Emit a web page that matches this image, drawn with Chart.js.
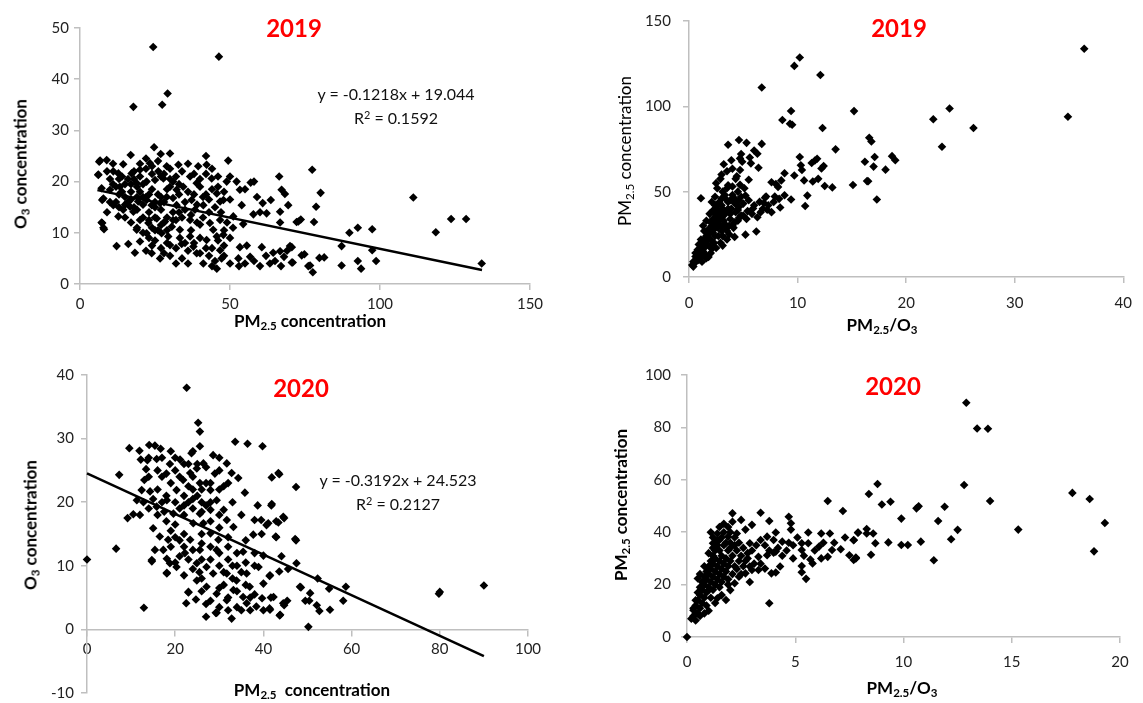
<!DOCTYPE html>
<html>
<head>
<meta charset="utf-8">
<script src="https://cdn.jsdelivr.net/npm/chart.js@4.4.1/dist/chart.umd.min.js"></script>
<style>
  body { margin: 0; background: #fff; }
  #wrap { position: relative; width: 1143px; height: 703px; overflow: hidden; font-family: Lato, "Open Sans", sans-serif; }
  canvas { position: absolute; }
  .t { position: absolute; white-space: nowrap; transform: translate(-50%, -50%); color: #000; }
  .yr { font-weight: bold; color: #ff0000; font-size: 24px; }
  .ax { font-weight: bold; font-size: 17px; }
  .axn { font-size: 17px; }
  .rot { transform: translate(-50%, -50%) rotate(-90deg); }
  .eq { font-size: 16px; color: #111; }
  sub { font-size: 68%; vertical-align: -0.3em; line-height: 0; }
  sup { font-size: 68%; vertical-align: 0.45em; line-height: 0; }
</style>
</head>
<body>
<div id="wrap">
  <canvas id="c1" style="left:0;top:0" width="560" height="340"></canvas>
  <canvas id="c2" style="left:580px;top:0" width="563" height="340"></canvas>
  <canvas id="c3" style="left:0;top:350px" width="560" height="359"></canvas>
  <canvas id="c4" style="left:580px;top:350px" width="563" height="353"></canvas>

  <div class="t yr" style="left:294px;top:27px">2019</div>
  <div class="t eq" style="left:396px;top:93px">y = -0.1218x + 19.044</div>
  <div class="t eq" style="left:396px;top:117px">R<sup>2</sup> = 0.1592</div>
  <div class="t ax" style="left:310px;top:320px">PM<sub>2.5</sub> concentration</div>
  <div class="t ax rot" style="left:20px;top:164px">O<sub>3</sub> concentration</div>

  <div class="t yr" style="left:899px;top:27px">2019</div>
  <div class="t axn rot" style="left:624px;top:151px">PM<sub>2.5</sub> concentration</div>
  <div class="t ax" style="left:882px;top:324px">PM<sub>2.5</sub>/O<sub>3</sub></div>

  <div class="t yr" style="left:301px;top:387px">2020</div>
  <div class="t eq" style="left:398px;top:479px">y = -0.3192x + 24.523</div>
  <div class="t eq" style="left:398px;top:503px">R<sup>2</sup> = 0.2127</div>
  <div class="t ax" style="left:312px;top:689px">PM<sub>2.5</sub>&nbsp; concentration</div>
  <div class="t ax rot" style="left:30px;top:525px">O<sub>3</sub> concentration</div>

  <div class="t yr" style="left:893px;top:385px">2020</div>
  <div class="t ax rot" style="left:620px;top:505px">PM<sub>2.5</sub> concentration</div>
  <div class="t ax" style="left:902px;top:687px">PM<sub>2.5</sub>/O<sub>3</sub></div>
</div>
<script>
// 2019: PM2.5 (x) vs O3 (y)
const pmO3_2019 = [
  [24.4,46.3],[46.3,44.4],[17.8,34.6],[29.2,37.2],[27.4,35],
  [24.7,26.7],[6.7,24.1],[8.9,24.2],[16.9,25.2],[26.9,25.4],[30,25.5],[42,25],[49.4,24.1],[6.1,21.4],[14.4,23.4],
  [11.1,22],[12.8,21.6],[17.2,21.6],[20,22.3],[23.3,23.6],[26.1,22],[28.9,23],[32.8,23.3],[36.7,21],[39.4,23],
  [42.2,23.3],[38.9,19.7],[43.9,20.6],[48.9,20],[52.2,20],[56.9,19.8],[66.4,21],[67.2,18.4],[68.3,17.6],[53.3,18.4],
  [7.2,18.7],[7.8,16.7],[10,18.4],[13.3,19],[18.9,19.7],[22.2,20],[25,20.3],[27.8,20.6],[30,19],[32.2,18.4],
  [34.4,19],[11.1,15.4],[12.8,13.2],[14.4,14.5],[16.7,15.1],[19.4,16.1],[22.2,16.4],[23.9,15.4],[26.7,15.8],[28.9,17],
  [32.2,15.4],[37.2,16.4],[38.3,14.5],[41.1,15.4],[45.6,17.7],[46.7,16.1],[47.8,16.4],[53.9,15.4],[60.9,15.8],[63.6,16.4],
  [69.4,15.4],[57.8,13.6],[62.2,13.8],[66.7,14.1],[7.2,12],[8,10.7],[51.1,13.2],[54.4,11.7],[72.8,12.2],[66.7,12],
  [17.8,14.1],[20,12.5],[22.8,11.9],[25.6,12.8],[28.3,12.2],[30.6,11.2],[33.3,10.6],[36.7,12.5],[40,11.6],[43.3,11.9],
  [46.7,12.5],[44.4,10.6],[18.9,10.6],[22.2,9.9],[27.2,9.9],[29.4,9.3],[33.3,9],[36.7,9.3],[40,9],[42.2,8.6],
  [45.6,9.3],[47.8,9.6],[12.2,7.4],[16.1,7.8],[20,8.3],[18.3,6.1],[23.9,6],[26.7,5],[30,7.6],[33.9,7.8],
  [37.8,7.3],[38.9,6],[41.1,4],[45.6,3],[46.7,6.6],[47.2,5],[53.3,7.2],[55.6,7.5],[52.8,5],[55,4],
  [56.7,5.3],[60.6,7.2],[64.4,6.1],[63.3,4],[66.7,6.4],[70,7.4],[68,5.3],[70.6,4.2],[73.9,5.6],[76.1,3.5],
  [77.4,22.3],[80.2,17.8],[78.7,15.1],[72.2,12.1],[73.6,12.6],[78,12.1],[70.6,7.2],[70.9,4.2],[74.8,5.8],[76.7,3.6],
  [77.6,2.3],[79.8,5.1],[81.4,5.2],[87.2,7.4],[87.2,3.6],[89.8,10],[92.6,11],[92.6,4.5],[93.7,3],[97.4,10.7],
  [97.4,6.6],[98.7,4.5],[111.1,16.9],[118.6,10.1],[123.7,12.7],[128.7,12.7],[133.9,4],
  [6.4,23.9],[6.1,21.3],[7.4,16.4],[7.4,11.9],[7.8,11],
  [20,18],[22,17],[24,18.5],[26,17.5],[28,16],[23,14],[25,13],[27,14.5],[29,13],[31,14],
  [21,19.5],[19,17],[17,18],[15,19.5],[13,17.5],[16,16],[18,15],[21,15.5],[24,11],[26,10.5],
  [28,12],[32,12.5],[34,13],[35,16],[33,17.5],[31,16.8],[30,20.5],[27,21],[24,21.5],[22,22.5],
  [20,21],[18,20.5],[14,21],[12,19],[10,20.5],[9,22],[11,23.5],[36,18],[38,17.5],[40,19],
  [42,17.5],[44,18.5],[46,19],[41,13],[39,12],[43,14],[37,10.5],[35,8],[32,7],[29,8],
  [27,7],[25,8.5],[34,5],[36,4],[44,7],[46,8.5],[48,10.5],[50,9],[45,4.5],[43,5.5],
  [12,16],[14,18],[16,20.5],[18,22],[20,23.5],[22,24.5],[24,23],[26,24],[28,21.5],[30,22.5],
  [32,21],[34,22],[36,23.5],[38,21.5],[40,20.5],[42,21.5],[44,22.5],[46,21],[48,18],[50,16.5],
  [13,15],[15,13],[17,12],[19,11],[21,10],[23,9],[25,10.5],[27,11.5],[29,10.5],[31,12.5],
  [33,14],[35,14.5],[37,13.5],[39,15.5],[41,17],[43,16.5],[45,15],[47,14],[49,12],[51,11],
  [15,17],[17,16.5],[19,14.5],[21,13],[23,12.5],[25,15],[27,17],[29,18.5],[31,20],[33,19.5],
  [23,17.5],[25,16],[21,17],[19,19],[17,19.5],[15,15.5],[13,20.5],[11,19.5],[10,16],[9,14],
  [30,5.5],[32,4],[28,6],[24,7.5],[22,6.5],[36,6.5],[38,8],[40,6],[42,7],[44,3.5],
  [48,5.5],[50,4],[48,7.5],[53,3.5],[58,4.5],[60,3.5],[62,5.5],[65,4.5],[67,3.5],[69,6.5],
  [50,21],[55,18.5],[58,20],[60,14],[59,17]
];
const trend2019 = [[5.8,18.34],[134,2.72]];

// 2019: PM2.5/O3 (x) vs PM2.5 (y)
const ratioPm_2019 = [
  [10.2,128.6],[9.7,123.7],[12.1,118.4],[6.7,111],[15.2,97.2],[9.4,97.3],[8.6,92],[9.3,89.8],[9.5,89.2],[12.3,87.3],
  [16.6,81.6],[16.8,79.4],[17.1,70.3],[16.2,67.5],[17,64.7],[15.1,53.9],[16.4,56.2],[17.3,45.4],[13.5,74.8],[10.2,70.3],
  [10.3,65.5],[10.4,62.7],[9.7,59.5],[11.3,66.8],[11.6,68.3],[11.8,69.3],[12.2,63.6],[12.4,65],[10.6,56.6],[11.4,56],
  [11.9,57.5],[12.5,53.3],[13.2,52.5],[10.9,47.7],[10.7,41.6],[8.8,60.8],[8.5,56.6],[8,54.5],[8.2,52.8],[7.6,55.5],
  [7.9,47.2],[8.3,45.8],[8.8,47.9],[9.4,45.4],[8.4,40.7],[7,46.5],[7.1,47.2],[6.9,43.4],[7.2,39.4],[6.6,38],
  [6.2,26.7],[5.2,24.8],[3.6,77.5],[4.6,80.3],[5.3,78.6],[6.7,78],[6,74.1],[6.3,72.2],[4.7,69.5],[3.9,68.4],
  [3.2,66.1],[5.7,66.6],[4.9,67.5],[4,63.4],[4.7,62.7],[2.9,57.5],[3.6,53.7],[4.3,57.5],[4.7,54],[5.2,47.7],
  [5.9,40.2],[5.4,38.6],[5,43],[4.5,39.2],[4.6,34.5],[4.1,28.8],[4.2,23.5],[3.1,18.4],[2.1,16.5],[1.8,11.7],
  [1.1,46.1],[0.4,6.1],
  [0.5,8],[0.7,10],[0.8,13],[1,12],[1,16],[1.2,18],[1.3,15],[1.5,20],[1.5,23],[1.7,19],
  [1.8,25],[2,22],[2,28],[2.2,26],[2.3,31],[2.4,24],[2.5,35],[2.6,29],[2.8,33],[2.9,38],
  [3,27],[3,42],[3.2,36],[3.3,31],[3.5,45],[3.6,40],[3.8,34],[4,48],[2.1,44],[2.4,47],
  [1.4,27],[1.6,33],[1.9,37],[2.7,43],[3.1,50],[1.1,22],[0.9,19],[0.6,14],[2.2,39],[2.6,52],
  [1.3,30],[3.4,29],[3.8,37],[4.2,32],[4.4,42],[4.8,36],[5.3,34],[4.1,44],[4.6,45],[3.7,25],
  [3.5,22],[2.9,20],[2.5,17],[2,14],[1.6,11],[1.2,9],[0.3,7],
  [0.4,9],[0.6,12],[0.8,16],[1,14],[1.1,18],[1.3,21],[1.4,17],[1.6,24],[1.7,22],[1.8,28],
  [1.9,26],[2.1,30],[2.2,34],[2.3,28],[2.4,37],[2.5,32],[2.6,40],[2.7,36],[2.8,44],[2.9,30],
  [3,46],[3.1,40],[3.2,33],[3.3,48],[3.4,38],[3.5,52],[3.6,44],[3.7,30],[3.9,40],[4,53],
  [4.2,46],[4.3,38],[4.5,50],[4.6,41],[4.8,47],[5,36],[5.1,52],[5.5,45],[5.8,37],[6,42],
  [6.3,35],[6.5,44],[6.8,40],[7.3,42],[7.6,38],[7.8,44],[1.5,13],[1.9,18],[2.3,20],[2.7,24],
  [3.1,24],[3.5,27],[4,30],[4.5,33],[0.9,10],[1.2,12.5],[2,32],[2.4,42],[3,35],[3.8,45],
  [2.5,55],[3,60],[3.5,62],[4.4,59],[4.8,72],[5.6,70],[6.4,64],[5.5,57],
  [36.4,133.7],[34.9,93.9],[24,98.7],[22.5,92.4],[26.2,87.3],[23.3,76.3],[18.1,62.9],[18.7,70.8],[19,68.4],[16.5,56.1]
];

// 2020: PM2.5 (x) vs O3 (y)
const pmO3_2020 = [
  [22.6,38],[25.2,32.5],[25.6,31.1],[0,11],[6.6,12.7],[7.3,24.3],[12.9,3.4],[9.6,28.5],[11.9,28.1],[14.1,29],
  [15.4,28.9],[16.7,28.4],[12.2,26.7],[13.7,26.6],[15.8,26.8],[13.4,25.2],[9.2,17.5],[10.5,18.1],[14.7,10.7],[15.4,12.5],
  [18.1,8.9],[18.8,10.4],[20.3,9.8],[22.5,4.1],[24.7,4.7],[23,5.8],[29.2,2.6],[32.8,1.7],[33.6,29.5],[36.4,29.2],
  [39.8,28.8],[24,28],
  [18.8,26],[21.1,26.7],[23.7,27.7],[25.6,28.8],[28.6,27.4],[26.4,26.1],[24.9,25.3],[31.7,26.1],[32.8,24.6],[34.3,23.8],
  [35.8,21.5],[41.9,23.9],[43.4,24.6],[47.4,22.4],[11.3,20.3],[12.8,20],[12.4,21.9],[14.3,21.7],[15.8,19.3],[15,15.9],
  [16.5,14.6],[18.4,14.1],[17.3,12.5],[14.7,10.9],[18.1,11.1],[18.1,8.8],[22.2,12],[23.4,14.1],[24.1,16.7],[25.6,18.2],
  [19.6,18.2],[18.1,20.3],[20.3,21.9],[21.8,23.5],[23.4,24.6],[25.6,23],[28,21.9],[29.4,20.3],[31,18.8],[31.7,17.2],
  [33.2,16.1],[28,18.8],[26.4,16.7],[28,15.1],[29.8,14.1],[29.4,12.5],[25.6,12.5],[24.9,10.4],[27.1,9.8],[28.6,8.8],
  [24.9,7.7],[27.1,6.7],[29.4,5.6],[31.7,4.6],[33.2,6.2],[35.4,5.1],[33.9,7.7],[36.2,8.8],[31.7,8.8],[36.9,6.7],
  [23,5.9],[29.4,2.6],[36.2,4.1],[38.4,3.6],[41.5,3.1],[43.8,2.3],[44.5,4.1],[40,7.2],[42.3,5.1],[38.9,9.8],
  [41.5,8.5],[40,11.6],[44.1,11.5],[47.5,10.4],[35.4,12.2],[38,17.2],[39.5,17.2],[38.7,19.5],[41.8,19.5],[40.7,16.4],
  [42.9,17],[44.5,17.7],[42.8,14.6],[37.7,14.9],[47.2,14.2],[48.3,6.7],
  [43.6,24.4],[41.9,19.7],[43.4,16.8],[44.7,17.5],[41.1,16.7],[39.6,15],[42.9,14.5],[47.4,14],[45.6,9.5],[43.6,9.1],
  [41.4,8.4],[41.7,5],[39.7,4.9],[41.4,3.3],[43.7,2.2],[44.7,3.8],[45.4,4.5],[48.5,6.6],[52.3,8],[54.9,6.4],
  [58.7,6.7],[50.6,5.7],[49.5,4.5],[50.4,4.5],[52.1,3.8],[52.7,2.9],[55.1,3.1],[58.1,4.5],[50.2,0.4],[80,5.9],
  [79.8,5.6],[90,6.9],
  [17,24],[19,23],[20,25],[22,21],[24,22],[26,20],[27,23],[29,24.5],[30,22],[21,19],
  [23,20],[25,21],[27,19.5],[20,16.5],[22,18],[24,19],[26,15],[28,17],[30,16],[32,14.5],
  [19,13],[21,14],[23,11],[26,13.5],[28,11],[30,10],[32,11],[34,10],[22,15],[18,17],
  [16,22],[14,24],[17,27],[19,28],[21,24],[23,26],[27,25.5],[30,27],[31,9],[33,8],
  [35,3],[34,3.5],[37,5],[30,6.5],[32,5],[26,8],[27,4],[36,10.5],[38,12],[20,10.5],
  [25.5,9],[17.5,18.5],[13,23.5],[15,20.5],[31,22.5],[33,20],[35,18],
  [14,27],[16,25],[18,24.5],[20,27],[22,26],[24,24],[26,22],[28,23],[30,25],[32,23],
  [18,21],[20,20],[22,19.5],[24,20.5],[26,18.5],[28,20],[30,18],[16,18],[14,19],[12,18],
  [20,14.5],[22,13],[24,12.5],[26,11],[28,13],[30,12],[32,13],[34,12],[36,14],[38,10],
  [22,8.5],[24,9.5],[26,6],[28,4.5],[30,3.5],[32,3],[34,6],[36,7],[38,5.5],[40,3],
  [27,2],[31,7],[33,10],[35,9],[37,3],[21,11.5],[19,15.5],[17,20],[23,22.5],[25,26]
];
const trend2020 = [[0,24.523],[90,-4.2]];

// 2020: PM2.5/O3 (x) vs PM2.5 (y)
const ratioPm_2020 = [
  [0,0],[6.5,51.9],[7.2,48.1],[3.4,47.4],[2.1,47.2],[2.5,44.7],[1.7,43.2],[3,42.8],[3.8,44.3],[4.7,45.9],
  [4.8,43.4],[4.8,41],[4.1,39.9],[3.7,38.3],[1.4,39.5],[2.3,39.5],[1.9,38.3],[2.9,35.8],[1.2,35.8],[6.2,39.5],
  [6.6,39.5],[5.6,39.9],[7.9,39.9],[7.7,37],[7.1,33.5],[7.5,31.2],[7.8,30],[6.7,33.2],[6.5,30.6],[6.2,30],
  [6.1,34.5],[5.8,28.1],[5.7,29.6],[5.3,35.8],[5.3,33.2],[5.6,35.8],[4.9,30],[5.3,27.1],[5.3,24.7],[5.5,22.2],
  [4.7,36],[4.4,36.4],[4,37],[4.1,32.6],[4,32.2],[4.3,26.9],[3.9,24.3],[4.1,24.6],[3.8,12.9],[3.7,31.2],
  [3.6,26.1],[3.3,30.6],[3,25.6],[3.3,25.6],[2.8,32],[2.9,26.9],[2.7,24.3],[2.4,23],[2.2,20.5],[2,17.9],
  [1.8,14.1],[1.4,14.8],[1,17.9],[0.5,22.3],[0.4,8.9],[0.2,7],[0.4,6.3],[0.3,10.2],
  [0.4,12],[0.5,14],[0.6,11],[0.6,16],[0.7,13],[0.7,18],[0.8,15],[0.8,20],[0.9,17],[0.9,22],
  [1,19],[1,24],[1.1,21],[1.1,26],[1.2,18],[1.2,23],[1.2,28],[1.3,20],[1.3,25],[1.3,30],
  [1.4,22],[1.4,27],[1.5,19],[1.5,24],[1.5,29],[1.5,33],[1.6,21],[1.6,26],[1.6,31],[1.7,23],
  [1.7,28],[1.7,35],[1.8,25],[1.8,30],[1.9,22],[1.9,27],[1.9,33],[2,29],[2,36],[2.1,24],
  [2.1,31],[2.2,27],[2.3,33],[2.4,29],[2.5,31],[2.6,27],[0.5,9],[0.3,8],[0.9,12],[1.1,15],
  [2.2,38],[1,32],[1.2,34],[0.8,27],[0.6,24],[1.4,37],[1.1,40],
  [0.3,11],[0.5,17],[0.7,21],[0.9,25],[1.1,29],[1.3,33],[1.5,37],[1.7,40],[1.9,42],[2.1,44],
  [0.4,14],[0.6,19],[0.8,23],[1,27],[1.2,31],[1.4,35],[1.6,38],[1.8,36],[2,34],[2.2,35],
  [2.4,36],[2.6,34],[2.8,30],[3,33],[3.2,35],[3.4,37],[3.6,35],[3.8,33],[4.2,34],[4.4,31],
  [4.6,33],[4.9,35],[5.1,38],[5.4,31],[5.9,33],[6.3,36],[6.8,36],[7.3,38],[2.3,26],[2.5,24],
  [2.7,29],[1.9,20],[1.6,16],[1.3,13],[1,10],[0.8,9],[2.9,21],[3.1,28],[3.4,28],[1.5,42],
  [1.2,38],[2,40],[2.7,41],[0.6,8],
  [12.9,89.4],[13.4,79.6],[13.9,79.5],[8.8,58.4],[8.4,54.6],[12.8,58],[14,51.9],[17.8,55],[18.6,52.7],[19.3,43.5],
  [18.8,32.7],[15.3,41],[9,50.6],[9.4,51.6],[10.6,49.1],[10.7,49.9],[11.9,49.7],[9.9,45.2],[11.6,44.3],[12.5,40.9],
  [12.2,37.3],[11.4,29.3],[10.8,36.4],[9.9,35.1],[10.2,35.1],[9.3,36.1],[8.7,35.8],[8.5,31.4],[8.6,39.5],[8.3,41.2],
  [8.3,39.5],[7.9,39.8],[7.7,36.9],[7.8,30.3],[7.7,29.4]
];

const axisGrey = '#bfbfbf';
const tickColor = '#222';

function drawPanel(id, pts, trend, xs, ys, lay) {
  const datasets = [{
    data: pts.map(p => ({ x: p[0], y: p[1] })),
    pointStyle: 'rectRot',
    pointRadius: 4.3,
    pointHoverRadius: 4.3,
    backgroundColor: '#000',
    borderWidth: 0,
    clip: false
  }];
  if (trend) {
    datasets.push({
      data: trend.map(p => ({ x: p[0], y: p[1] })),
      showLine: true,
      borderColor: '#000',
      borderWidth: 2.5,
      pointRadius: 0,
      clip: false
    });
  }
  new Chart(document.getElementById(id), {
    type: 'scatter',
    data: { datasets },
    options: {
      responsive: false,
      animation: false,
      layout: { padding: { top: lay.top, right: lay.right, bottom: lay.bottom || 0, left: 0 } },
      plugins: { legend: { display: false }, tooltip: { enabled: false } },
      scales: {
        x: {
          type: 'linear', min: xs[0], max: xs[1],
          position: lay.xAtZero ? { y: 0 } : 'bottom',
          ticks: { stepSize: xs[2], padding: lay.xPad, color: tickColor, maxRotation: 0, font: { family: 'Lato', size: 15 } },
          grid: { drawOnChartArea: false, drawTicks: true, tickLength: 6, color: axisGrey, lineWidth: 1.5 },
          border: { color: axisGrey, width: 1.5 },
          afterFit: s => { if (!lay.xAtZero) s.height = lay.xH; }
        },
        y: {
          type: 'linear', min: ys[0], max: ys[1],
          ticks: { stepSize: ys[2], padding: lay.yPad, color: tickColor, font: { family: 'Lato', size: 15 } },
          grid: { drawOnChartArea: false, drawTicks: true, tickLength: 6, color: axisGrey, lineWidth: 1.5 },
          border: { color: axisGrey, width: 1.5 },
          afterFit: s => { s.width = lay.yW; }
        }
      }
    }
  });
}

drawPanel('c1', pmO3_2019, trend2019, [0, 150, 50], [0, 50, 10], { top: 28, right: 30, yW: 80, xH: 56, xPad: 5, yPad: 5 });
drawPanel('c2', ratioPm_2019, null, [0, 40, 10], [0, 150, 50], { top: 13, right: 14, yW: 109, xH: 63, xPad: 11, yPad: 12 });
drawPanel('c3', pmO3_2020, trend2020, [0, 100, 20], [-10, 40, 10], { top: 25, right: 32, bottom: 5, yW: 87, xAtZero: true, xPad: 5, yPad: 7 });
drawPanel('c4', ratioPm_2020, null, [0, 20, 5], [0, 100, 20], { top: 25, right: 23, yW: 107, xH: 66, xPad: 10, yPad: 10 });
</script>
</body>
</html>
